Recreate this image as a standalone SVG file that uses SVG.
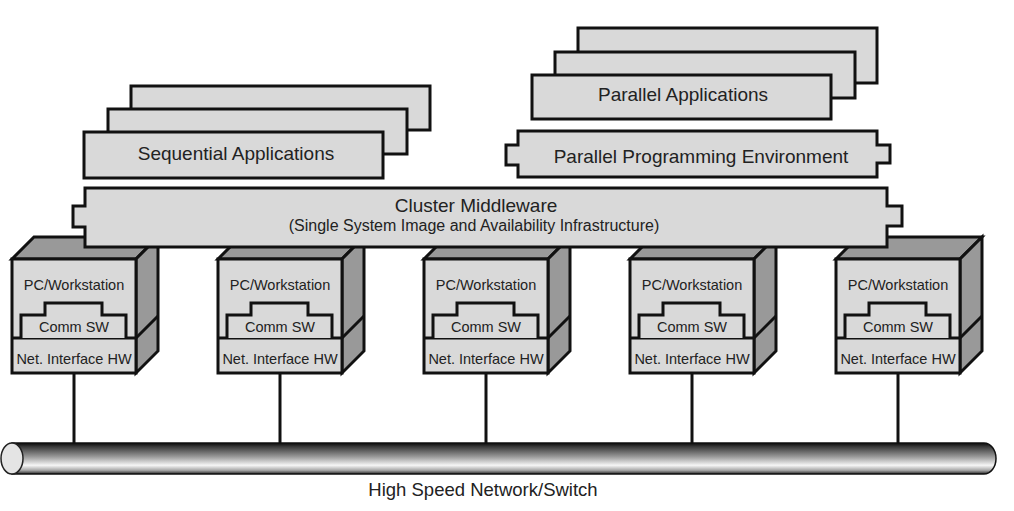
<svg xmlns="http://www.w3.org/2000/svg" width="1014" height="511" viewBox="0 0 1014 511">
<defs>
<style>
.box{fill:#d9d9d9;stroke:#111;stroke-width:3;stroke-linejoin:miter}
.dark{fill:#999;stroke:#111;stroke-width:3;stroke-linejoin:miter}
.ln{fill:none;stroke:#111;stroke-width:3}
.t{font-family:"Liberation Sans",Arial,sans-serif;fill:#222;text-anchor:middle}
.big{font-size:19px}
.mid{font-size:16px}
.sm{font-size:14.5px}
</style>
<linearGradient id="busg" x1="0" y1="0" x2="0" y2="1">
<stop offset="0" stop-color="#0a0a0a"/>
<stop offset="0.12" stop-color="#3a3a3a"/>
<stop offset="0.45" stop-color="#9c9c9c"/>
<stop offset="0.72" stop-color="#f6f6f6"/>
<stop offset="0.88" stop-color="#a8a8a8"/>
<stop offset="1" stop-color="#2a2a2a"/>
</linearGradient>
<g id="pc">
<polygon class="dark" points="0,259 22,237 146,237 124,259"/>
<polygon class="dark" points="124,259 146,237 146,351 124,373"/>
<line class="ln" x1="124" y1="338" x2="146" y2="316"/>
<rect class="box" x="0" y="259" width="124" height="114"/>
<line class="ln" x1="0" y1="338" x2="124" y2="338"/>
<path class="box" d="M9,338 V315 H33 V303 H90 V315 H114 V338"/>
<text class="t sm" x="62" y="290">PC/Workstation</text>
<text class="t sm" x="62" y="332">Comm SW</text>
<text class="t sm" x="62" y="364">Net. Interface HW</text>
</g>
</defs>

<g id="sequential-applications">
<rect class="box" x="131" y="86" width="299" height="44"/>
<rect class="box" x="108" y="109" width="299" height="45"/>
<rect class="box" x="84" y="132" width="299" height="46"/>
<text class="t big" x="236" y="160">Sequential Applications</text>
</g>

<g id="parallel-applications">
<rect class="box" x="578" y="28" width="299" height="55"/>
<rect class="box" x="555" y="52" width="300" height="46"/>
<rect class="box" x="532" y="75" width="299" height="44"/>
<text class="t big" x="683" y="101">Parallel Applications</text>
</g>

<g id="parallel-programming-environment">
<path class="box" d="M518,131 H877 V145 H890 V163 H877 V177 H518 V165 H506 V145 H518 Z"/>
<text class="t big" x="701" y="163">Parallel Programming Environment</text>
</g>

<g id="connectors">
<line class="ln" x1="74" y1="373" x2="74" y2="444"/>
<line class="ln" x1="280" y1="373" x2="280" y2="444"/>
<line class="ln" x1="486" y1="373" x2="486" y2="444"/>
<line class="ln" x1="692" y1="373" x2="692" y2="444"/>
<line class="ln" x1="898" y1="373" x2="898" y2="444"/>
</g>

<g id="node1"><use href="#pc" x="12" y="0"/></g>
<g id="node2"><use href="#pc" x="218" y="0"/></g>
<g id="node3"><use href="#pc" x="424" y="0"/></g>
<g id="node4"><use href="#pc" x="630" y="0"/></g>
<g id="node5"><use href="#pc" x="836" y="0"/></g>

<g id="cluster-middleware">
<path class="box" d="M85,188 H887 V206 H902 V226 H887 V247 H85 V227 H73 V206 H85 Z"/>
<text class="t big" x="476" y="212">Cluster Middleware</text>
<text class="t mid" x="474" y="231">(Single System Image and Availability Infrastructure)</text>
</g>

<g id="network">
<path d="M12,443 H984 A12,15.5 0 0 1 984,474 H12 Z" fill="url(#busg)" stroke="#111" stroke-width="1.5"/>
<ellipse cx="12" cy="458.5" rx="11" ry="15.5" fill="#e4e4e4" stroke="#222" stroke-width="1.5"/>
<text class="t" style="font-size:18.5px" x="483" y="496">High Speed Network/Switch</text>
</g>
</svg>
